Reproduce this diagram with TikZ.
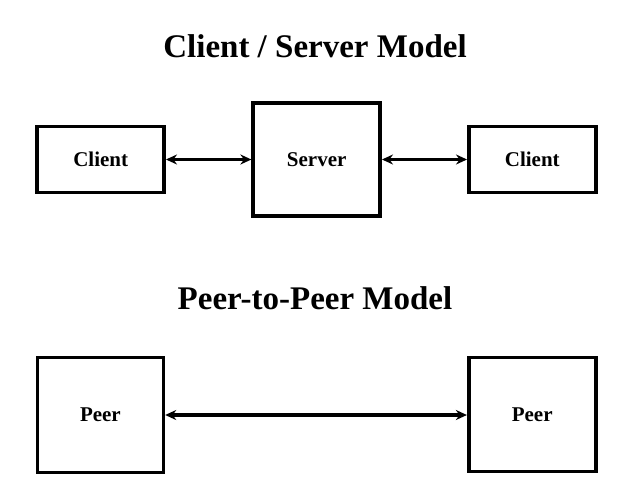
\documentclass[tikz,border=0pt]{standalone}
\usepackage{fontspec}
\setmainfont{Liberation Serif}
\usetikzlibrary{arrows.meta}
\begin{document}
\begin{tikzpicture}[x=1pt,y=-1pt,
  box/.style={draw=black,line width=3.6pt,rectangle,inner sep=0pt,font=\fontsize{21}{25}\selectfont\bfseries},
  title/.style={anchor=base,inner sep=0pt,font=\fontsize{33}{38}\selectfont\bfseries},
  link/.style={line width=3.2pt,{Stealth[length=11pt,width=10pt]}-{Stealth[length=11pt,width=10pt]}}]
\useasboundingbox (0,0) rectangle (640,503);
\node[title] (t1) at (315,58) {Client / Server Model};
\node[box,minimum width=127pt,minimum height=66pt] (c1) at (100.7,159.5) {Client};
\node[box,minimum width=127pt,minimum height=113pt] (sv) at (316.7,159.2) {\raisebox{-1pt}{Server}};
\node[box,minimum width=127pt,minimum height=66pt] (c2) at (532.3,159.5) {Client};
\draw[link] (c1.east) -- (sv.west |- c1.east);
\draw[link] (sv.east |- c2.west) -- (c2.west);
\node[title] (t2) at (315,309) {Peer-to-Peer Model};
\node[box,minimum width=126pt,minimum height=115pt] (p1) at (100.4,415) {Peer};
\node[box,minimum width=127pt,minimum height=114pt] (p2) at (532.2,414.5) {Peer};
\draw[link] (p1.east) -- (p2.west |- p1.east);
\end{tikzpicture}
\end{document}
